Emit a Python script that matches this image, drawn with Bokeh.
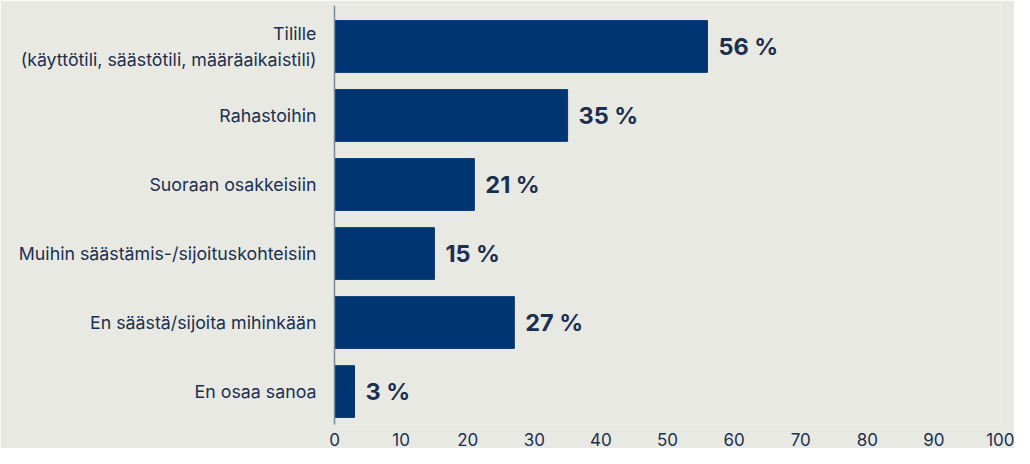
from bokeh.plotting import figure
from bokeh.models import Range1d, FixedTicker, ColumnDataSource, LinearAxis
from bokeh.core.properties import value
from bokeh.embed import file_html
from bokeh.resources import INLINE

categories = ["Tilille\n(käyttötili, säästötili, määräaikaistili)", "Rahastoihin",
              "Suoraan osakkeisiin", "Muihin säästämis-/sijoituskohteisiin",
              "En säästä/sijoita mihinkään", "En osaa sanoa"]
values = [56, 35, 21, 15, 27, 3]
labels = ["56 %", "35 %", "21 %", "15 %", "27 %", "3 %"]
x_ticks = [0, 10, 20, 30, 40, 50, 60, 70, 80, 90, 100]

BG = "#e9e9e4"
BAR = "#003574"
TXT = "#1b2f4f"
FONT = "Inter"

pos = list(range(len(categories)))
src = ColumnDataSource(dict(y=pos, v=values, lab=labels))

p = figure(width=1014, height=448, output_backend="svg", toolbar_location=None,
           x_range=Range1d(0, 100), y_range=Range1d(5.478, -0.594),
           background_fill_color=BG, border_fill_color=BG,
           min_border_left=334, min_border_right=14, min_border_top=5, min_border_bottom=24,
           x_axis_location=None, y_axis_location=None)
p.outline_line_color = None
p.grid.visible = False

p.hbar(y="y", right="v", left=0, height=0.75, color=BAR, source=src)
p.text(x="v", y="y", text="lab", source=src, x_offset=11, text_align="left",
       text_baseline="middle", text_font=value(FONT), text_font_style="bold",
       text_font_size="23.5px", text_color=TXT)

yax = LinearAxis(ticker=FixedTicker(ticks=pos),
                 major_label_overrides={i: c for i, c in enumerate(categories)})
yax.axis_line_color = "#7d8796"
yax.axis_line_width = 1.5
yax.major_tick_line_color = None
yax.minor_tick_line_color = None
yax.major_label_text_font = FONT
yax.major_label_text_font_size = "17.8px"
yax.major_label_text_color = TXT
yax.major_label_standoff = 12
yax.major_label_text_line_height = 1.2
p.add_layout(yax, "left")

xax = LinearAxis(ticker=FixedTicker(ticks=x_ticks))
xax.axis_line_color = None
xax.major_tick_line_color = None
xax.minor_tick_line_color = None
xax.major_label_text_font = FONT
xax.major_label_text_font_size = "17px"
xax.major_label_text_color = TXT
xax.major_label_standoff = 2
p.add_layout(xax, "below")

open("out.html", "w").write(file_html(p, INLINE))
